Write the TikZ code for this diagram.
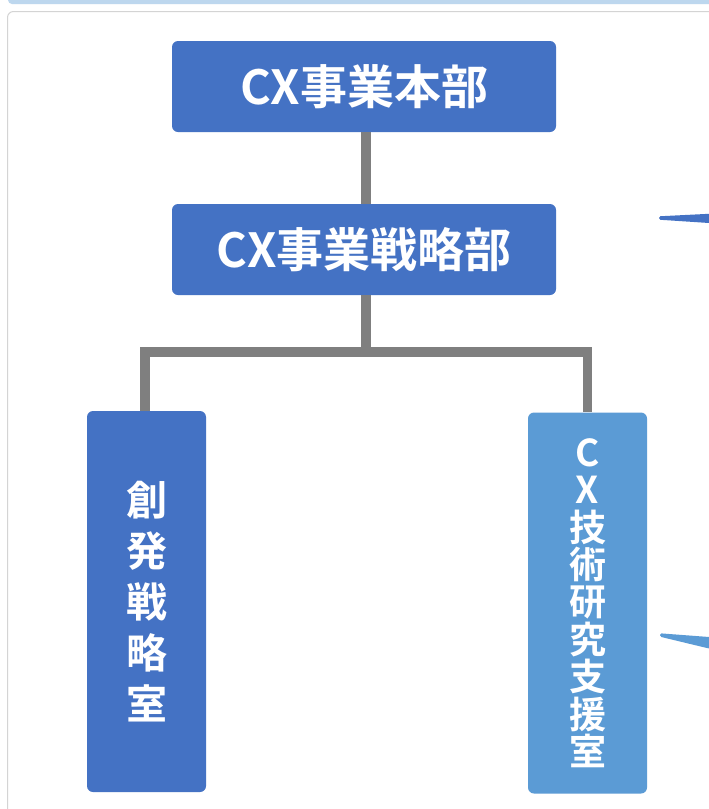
\documentclass[tikz,border=0pt]{standalone}
\usepackage{fontspec}
\setmainfont{Noto Sans CJK JP}[BoldFont={* Bold}]
\newfontfamily\cjkb{Noto Sans CJK JP Bold}
\definecolor{boxA}{HTML}{4472C4}
\definecolor{boxB}{HTML}{5B9BD5}
\definecolor{connc}{HTML}{7F7F7F}
\definecolor{bandc}{HTML}{BDD7EE}
\definecolor{cardc}{HTML}{D4D4D4}
\begin{document}
\begin{tikzpicture}[x=1pt,y=-1pt,
  orgbox/.style={rounded corners=6pt, inner sep=0pt, text=white, anchor=center, align=center},
  hbox/.style={orgbox, fill=boxA, minimum width=384pt, minimum height=91pt, font=\cjkb\fontsize{47}{52}\selectfont},
  vboxA/.style={orgbox, fill=boxA, minimum width=119pt, minimum height=381pt, font=\cjkb\fontsize{41}{51}\selectfont},
  vboxB/.style={orgbox, fill=boxB, minimum width=119pt, minimum height=381pt, font=\cjkb\fontsize{37}{37.4}\selectfont},
  conn/.style={draw=connc, line width=9.5pt}
]
\useasboundingbox (0,0) rectangle (709,809);
\clip (0,0) rectangle (709,809);
\fill[white] (0,0) rectangle (709,809);
% top band and card
\fill[bandc, rounded corners=4pt] (8,-10) rectangle (730,4);
\draw[cardc, line width=1pt, rounded corners=6pt] (7.5,11.5) rectangle (730,830);
% nodes
\node[hbox] (b1) at (364,86.5) {CX事業本部};
\node[hbox] (b2) at (364,249.5) {CX事業戦略部};
\node[vboxA] (l) at (146.5,601.5) {創\\発\\戦\\略\\室};
\node[vboxB] (r) at (587.5,603) {C\\X\\技\\術\\研\\究\\支\\援\\室};
% connectors
\coordinate (m) at (366,352);
\coordinate (b1s) at (366,132);
\coordinate (b2n) at (366,204);
\coordinate (b2s) at (366,295);
\draw[conn] (b1s) -- (b2n);
\draw[conn] (b2s) -- (m);
\draw[conn, line join=miter] ([xshift=-1.5pt]l.north) |- (m) -| (r.north);
% partial connectors at right edge
\fill[boxA, rounded corners=1.5pt] (659,216.3) -- (709,213.8) -- (712,213.8) -- (712,223) -- (709,223) -- (659,219.7) -- cycle;
\fill[boxB, rounded corners=1.5pt] (660,633.3) -- (709,637) -- (712,637) -- (712,648.5) -- (709,648.5) -- (660,636.7) -- cycle;
\end{tikzpicture}
\end{document}
